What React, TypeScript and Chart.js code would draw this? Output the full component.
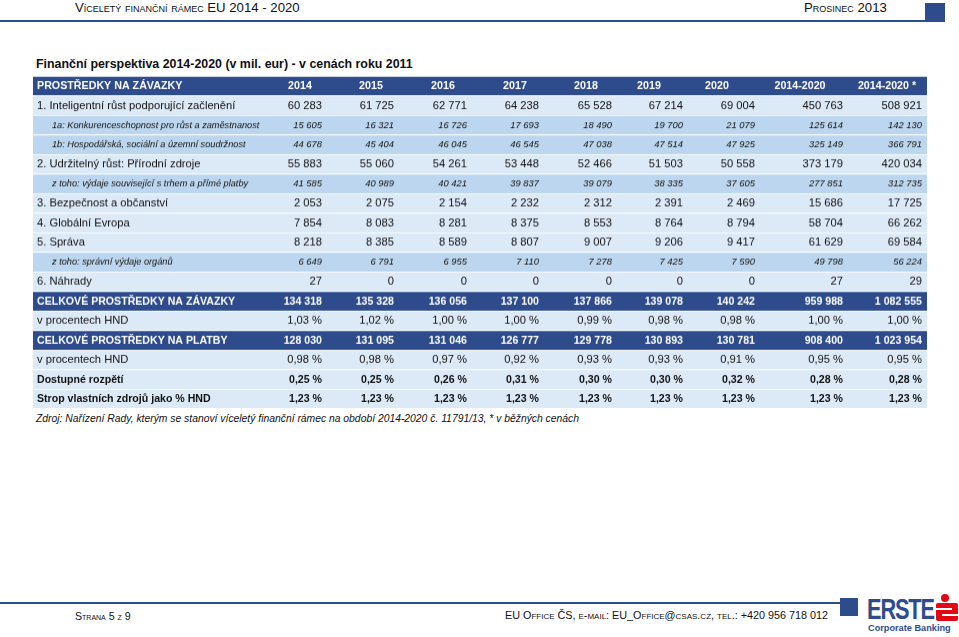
import React, { useEffect, useRef } from "react";
import { Chart, registerables } from "chart.js";

Chart.register(...registerables);

// ---------- data ----------
const COLUMN_HEADERS = ["2014", "2015", "2016", "2017", "2018", "2019", "2020", "2014-2020", "2014-2020 *"];
const HEADER_LABEL = "PROSTŘEDKY NA ZÁVAZKY";

const ROW_LABELS = [
  "1. Inteligentní růst podporující začlenění",
  "1a: Konkurenceschopnost pro růst a zaměstnanost",
  "1b: Hospodářská, sociální a územní soudržnost",
  "2. Udržitelný růst: Přírodní zdroje",
  "z toho: výdaje související s trhem a přímé platby",
  "3. Bezpečnost a občanství",
  "4. Globální Evropa",
  "5. Správa",
  "z toho: správní výdaje orgánů",
  "6. Náhrady",
  "CELKOVÉ PROSTŘEDKY NA ZÁVAZKY",
  "v procentech HND",
  "CELKOVÉ PROSTŘEDKY NA PLATBY",
  "v procentech HND",
  "Dostupné rozpětí",
  "Strop vlastních zdrojů jako % HND",
];

const ROW_TYPES = ["main", "sub", "sub", "main", "sub", "main", "main", "main", "sub", "main", "total", "main", "total", "main", "bold", "bold"];
const ROW_FORMATS = ["int", "int", "int", "int", "int", "int", "int", "int", "int", "int", "int", "pct", "int", "pct", "pct", "pct"];

const SMART_GROWTH = [60283, 61725, 62771, 64238, 65528, 67214, 69004, 450763, 508921];
const COMPETITIVENESS = [15605, 16321, 16726, 17693, 18490, 19700, 21079, 125614, 142130];
const COHESION = [44678, 45404, 46045, 46545, 47038, 47514, 47925, 325149, 366791];
const NATURAL_RESOURCES = [55883, 55060, 54261, 53448, 52466, 51503, 50558, 373179, 420034];
const MARKET_EXPENDITURE = [41585, 40989, 40421, 39837, 39079, 38335, 37605, 277851, 312735];
const SECURITY = [2053, 2075, 2154, 2232, 2312, 2391, 2469, 15686, 17725];
const GLOBAL_EUROPE = [7854, 8083, 8281, 8375, 8553, 8764, 8794, 58704, 66262];
const ADMINISTRATION = [8218, 8385, 8589, 8807, 9007, 9206, 9417, 61629, 69584];
const ADMIN_EXPENDITURE = [6649, 6791, 6955, 7110, 7278, 7425, 7590, 49798, 56224];
const COMPENSATIONS = [27, 0, 0, 0, 0, 0, 0, 27, 29];
const TOTAL_COMMITMENTS = [134318, 135328, 136056, 137100, 137866, 139078, 140242, 959988, 1082555];
const COMMITMENTS_GNI = [1.03, 1.02, 1.0, 1.0, 0.99, 0.98, 0.98, 1.0, 1.0];
const TOTAL_PAYMENTS = [128030, 131095, 131046, 126777, 129778, 130893, 130781, 908400, 1023954];
const PAYMENTS_GNI = [0.98, 0.98, 0.97, 0.92, 0.93, 0.93, 0.91, 0.95, 0.95];
const AVAILABLE_MARGIN = [0.25, 0.25, 0.26, 0.31, 0.3, 0.3, 0.32, 0.28, 0.28];
const OWN_RESOURCES_CEILING = [1.23, 1.23, 1.23, 1.23, 1.23, 1.23, 1.23, 1.23, 1.23];

const ROW_VALUES = [
  SMART_GROWTH, COMPETITIVENESS, COHESION, NATURAL_RESOURCES, MARKET_EXPENDITURE,
  SECURITY, GLOBAL_EUROPE, ADMINISTRATION, ADMIN_EXPENDITURE, COMPENSATIONS,
  TOTAL_COMMITMENTS, COMMITMENTS_GNI, TOTAL_PAYMENTS, PAYMENTS_GNI,
  AVAILABLE_MARGIN, OWN_RESOURCES_CEILING,
];

// ---------- layout (not data) ----------
const TABLE_LEFT = 33;
const TABLE_TOP = 76;
const TABLE_W = 894;
const ROW_H = 19.5;
const NUM_RIGHT_ABS = [322, 394, 467, 539, 612, 683, 755, 843, 922];
const HEAD_CENTER_ABS = [300, 371, 443, 515, 586, 649, 717, 800, 887];
const MAIN_INDENT = 4;
const SUB_INDENT = 19;
const FONT = '"Liberation Sans", Arial, Helvetica, sans-serif';

const DARK = "#2E4C8C";
const LIGHT = "#DCE9F7";
const MID = "#BCD6EF";

function fmtInt(n: number): string {
  const s = String(Math.round(n));
  return s.replace(/\B(?=(\d{3})+(?!\d))/g, " ");
}
function fmtPct(n: number): string {
  return n.toFixed(2).replace(".", ",") + " %";
}

const ALL_TYPES = ["header", ...ROW_TYPES];
const ALL_LABELS = [HEADER_LABEL, ...ROW_LABELS];

const STYLE: Record<string, { label: string; value: string; color: string; bg: string }> = {
  header: { label: `bold 10.7px ${FONT}`, value: `bold 10.7px ${FONT}`, color: "#ffffff", bg: DARK },
  total: { label: `bold 10.6px ${FONT}`, value: `bold 10.6px ${FONT}`, color: "#ffffff", bg: DARK },
  main: { label: `11.2px ${FONT}`, value: `11.2px ${FONT}`, color: "#111111", bg: LIGHT },
  sub: { label: `italic 9.2px ${FONT}`, value: `italic 9.4px ${FONT}`, color: "#111111", bg: MID },
  bold: { label: `bold 10.6px ${FONT}`, value: `bold 10.6px ${FONT}`, color: "#111111", bg: LIGHT },
};

const tableTextPlugin = {
  id: "tableText",
  afterDatasetsDraw(chart: any) {
    const { ctx, scales } = chart;
    const x = scales.x;
    const y = scales.y;
    ctx.save();
    ctx.textBaseline = "middle";
    ALL_LABELS.forEach((label, i) => {
      const type = ALL_TYPES[i];
      const st = STYLE[type];
      const cy = y.getPixelForValue(i) + 0.5;
      ctx.fillStyle = st.color;
      ctx.font = st.label;
      ctx.textAlign = "left";
      ctx.fillText(label, x.getPixelForValue(type === "sub" ? SUB_INDENT : MAIN_INDENT), cy);
      ctx.font = st.value;
      if (type === "header") {
        ctx.textAlign = "center";
        COLUMN_HEADERS.forEach((h, j) => {
          ctx.fillText(h, x.getPixelForValue(HEAD_CENTER_ABS[j] - TABLE_LEFT), cy);
        });
      } else {
        const r = i - 1;
        const fmt = ROW_FORMATS[r] === "pct" ? fmtPct : fmtInt;
        ctx.textAlign = "right";
        ROW_VALUES[r].forEach((v, j) => {
          ctx.fillText(fmt(v), x.getPixelForValue(NUM_RIGHT_ABS[j] - TABLE_LEFT), cy);
        });
      }
    });
    ctx.restore();
  },
};

function TableChart() {
  const ref = useRef<HTMLCanvasElement | null>(null);
  useEffect(() => {
    if (!ref.current) return;
    const chart = new Chart(ref.current, {
      type: "bar",
      data: {
        labels: ALL_LABELS,
        datasets: [
          {
            data: ALL_LABELS.map(() => [0, TABLE_W]) as any,
            backgroundColor: ALL_TYPES.map((t) => STYLE[t].bg),
            borderColor: "#ffffff",
            borderWidth: { top: 1, bottom: 0, left: 0, right: 0 } as any,
            borderSkipped: false,
            barPercentage: 1,
            categoryPercentage: 1,
          },
        ],
      },
      options: {
        indexAxis: "y",
        responsive: true,
        maintainAspectRatio: false,
        animation: false,
        layout: { padding: 0 },
        plugins: { legend: { display: false }, tooltip: { enabled: false } },
        scales: {
          x: { type: "linear", min: 0, max: TABLE_W, display: false },
          y: { type: "category", display: false, offset: true },
        },
      },
      plugins: [tableTextPlugin],
    } as any);
    return () => chart.destroy();
  }, []);
  return (
    <div style={{ position: "absolute", left: TABLE_LEFT, top: TABLE_TOP, width: TABLE_W, height: ROW_H * ALL_LABELS.length }}>
      <canvas ref={ref} />
    </div>
  );
}

export default function App() {
  const sc: React.CSSProperties = { fontVariant: "small-caps", fontFamily: FONT, color: "#111", position: "absolute", whiteSpace: "nowrap", lineHeight: 1 };
  return (
    <div style={{ position: "absolute", left: 0, top: 0, width: 959, height: 637, background: "#fff", overflow: "hidden", fontFamily: FONT }}>
      {/* page header */}
      <div style={{ ...sc, left: 75, top: 1, fontSize: 13.2 }}>Víceletý finanční rámec EU 2014 - 2020</div>
      <div style={{ ...sc, left: 804, top: 1, fontSize: 13.2 }}>Prosinec 2013</div>
      <div style={{ position: "absolute", left: 0, top: 20, width: 925, height: 2, background: DARK }} />
      <div style={{ position: "absolute", left: 925, top: 3, width: 20, height: 19, background: DARK }} />

      {/* title */}
      <div style={{ position: "absolute", left: 36, top: 57, fontSize: 12.4, fontWeight: "bold", whiteSpace: "nowrap", color: "#111" }}>
        Finanční perspektiva 2014-2020 (v mil. eur) - v cenách roku 2011
      </div>

      <TableChart />

      {/* source note */}
      <div style={{ position: "absolute", left: 36, top: 413, fontSize: 10.35, fontStyle: "italic", whiteSpace: "nowrap", color: "#111" }}>
        Zdroj: Nařízení Rady, kterým se stanoví víceletý finanční rámec na období 2014-2020 č. 11791/13, * v běžných cenách
      </div>

      {/* footer */}
      <div style={{ position: "absolute", left: 0, top: 602, width: 840, height: 2, background: DARK }} />
      <div style={{ position: "absolute", left: 840, top: 598, width: 18, height: 18, background: DARK }} />
      <div style={{ ...sc, left: 75, top: 611, fontSize: 10.6 }}>Strana 5 z 9</div>
      <div style={{ ...sc, left: 505, top: 610, fontSize: 10.8 }}>EU Office ČS, e-mail: EU_Office@csas.cz, tel.: +420 956 718 012</div>

      {/* logo */}
      <div style={{ position: "absolute", left: 867, top: 595, fontSize: 29, fontWeight: "bold", color: DARK, letterSpacing: -1.5, transform: "scaleX(0.75)", transformOrigin: "left top", lineHeight: 1 }}>ERSTE</div>
      <div style={{ position: "absolute", left: 941, top: 594, width: 8, height: 8, borderRadius: "50%", background: "#E30613" }} />
      <div style={{ position: "absolute", left: 936, top: 603, width: 22, height: 18, background: "#E30613", borderRadius: 2 }} />
      <div style={{ position: "absolute", left: 936, top: 608, width: 16, height: 2, background: "#fff" }} />
      <div style={{ position: "absolute", left: 942, top: 614, width: 16, height: 2, background: "#fff" }} />
      <div style={{ position: "absolute", left: 868, top: 624, fontSize: 9.2, fontWeight: "bold", color: DARK, whiteSpace: "nowrap", lineHeight: 1 }}>Corporate Banking</div>
    </div>
  );
}
